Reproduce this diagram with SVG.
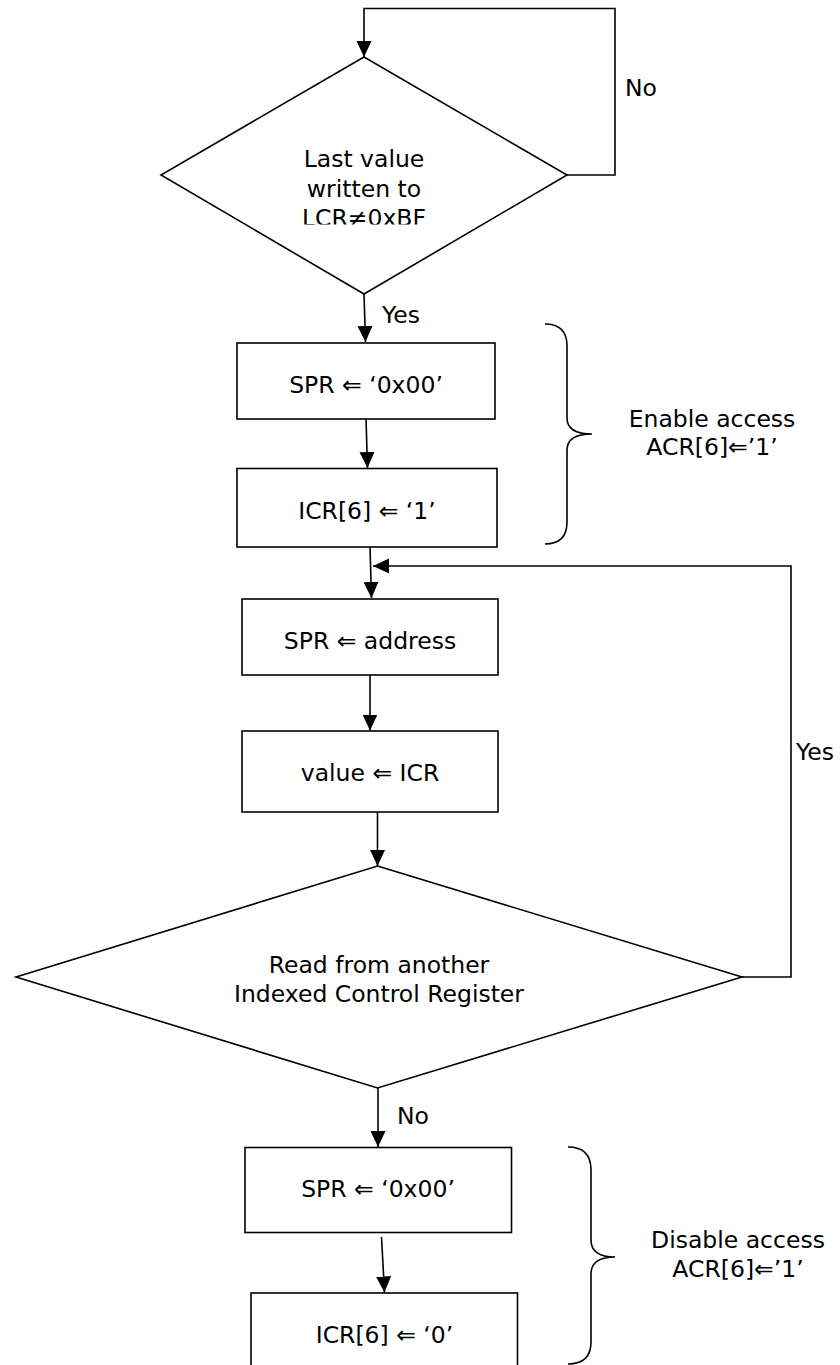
<svg xmlns="http://www.w3.org/2000/svg" width="840" height="1365" viewBox="0 0 840 1365">
<style>
.s{fill:#fff;stroke:#000;stroke-width:1.6}
.c{fill:none;stroke:#000;stroke-width:1.6}
text{font-family:"DejaVu Sans",Verdana,sans-serif;font-size:23.5px;fill:#000}
.m{text-anchor:middle}
</style>
<defs>
<marker id="ah" markerUnits="userSpaceOnUse" markerWidth="16" markerHeight="16" viewBox="0 0 16 16" refX="16" refY="8" orient="auto">
<path d="M0,0.5 L16,8 L0,15.5 Z" fill="#000"/>
</marker>
<clipPath id="dclip"><rect x="0" y="0" width="840" height="224.5"/></clipPath>
</defs>
<rect width="840" height="1365" fill="#fff"/>
<g id="connectors">
<polyline class="c" points="567,175 615,175 615,8.5 364,8.5 364,57" marker-end="url(#ah)"/>
<line class="c" x1="364" y1="294" x2="365.5" y2="342" marker-end="url(#ah)"/>
<line class="c" x1="366" y1="419" x2="367.5" y2="468" marker-end="url(#ah)"/>
<line class="c" x1="370" y1="547" x2="371.5" y2="598" marker-end="url(#ah)"/>
<polyline class="c" points="742,977 791,977 791,566 373,566" marker-end="url(#ah)"/>
<line class="c" x1="370" y1="675" x2="370" y2="730.5" marker-end="url(#ah)"/>
<line class="c" x1="377.5" y1="812" x2="377.5" y2="866" marker-end="url(#ah)"/>
<line class="c" x1="378" y1="1088" x2="378" y2="1147" marker-end="url(#ah)"/>
<line class="c" x1="381.5" y1="1237" x2="384.5" y2="1292.5" marker-end="url(#ah)"/>
<text x="625" y="96">No</text>
<text x="382" y="323">Yes</text>
<text x="796" y="760">Yes</text>
<text x="397" y="1124">No</text>
</g>
<g id="d1">
<polygon class="s" points="364,57 567,175 364,294 161,175"/>
<g clip-path="url(#dclip)">
<text class="m" x="364" y="167">Last value</text>
<text class="m" x="364" y="196.5">written to</text>
<text class="m" x="364" y="226">LCR≠0xBF</text>
</g>
</g>
<g id="b1">
<rect class="s" x="237" y="343" width="258" height="76"/>
<text class="m" x="366" y="393">SPR ⇐ ‘0x00’</text>
</g>
<g id="b2">
<rect class="s" x="237" y="468.5" width="260" height="78.5"/>
<text class="m" x="367" y="519">ICR[6] ⇐ ‘1’</text>
</g>
<g id="brace1">
<path class="c" d="M545,324 Q567,324 567,346 L567,418 Q567,434 592,434 Q567,434 567,450 L567,522 Q567,544 545,544"/>
<text class="m" x="712" y="427">Enable access</text>
<text class="m" x="712" y="455">ACR[6]⇐’1’</text>
</g>
<g id="b3">
<rect class="s" x="242" y="599" width="256" height="76"/>
<text class="m" x="370" y="649">SPR ⇐ address</text>
</g>
<g id="b4">
<rect class="s" x="242" y="731" width="256" height="81"/>
<text class="m" x="370" y="781">value ⇐ ICR</text>
</g>
<g id="d2">
<polygon class="s" points="377.5,866 742,977 377.5,1088 16,977"/>
<text class="m" x="379" y="973">Read from another</text>
<text class="m" x="379" y="1002">Indexed Control Register</text>
</g>
<g id="b5">
<rect class="s" x="245" y="1147.5" width="266.5" height="85"/>
<text class="m" x="378" y="1197">SPR ⇐ ‘0x00’</text>
</g>
<g id="b6">
<rect class="s" x="251" y="1293" width="266.5" height="110"/>
<text class="m" x="384.5" y="1343">ICR[6] ⇐ ‘0’</text>
</g>
<g id="brace2">
<path class="c" d="M568,1147 Q591,1147 591,1170 L591,1240 Q591,1257 615,1257 Q591,1257 591,1274 L591,1342 Q591,1364 568,1364"/>
<text class="m" x="738" y="1248">Disable access</text>
<text class="m" x="738" y="1277">ACR[6]⇐’1’</text>
</g>
</svg>
